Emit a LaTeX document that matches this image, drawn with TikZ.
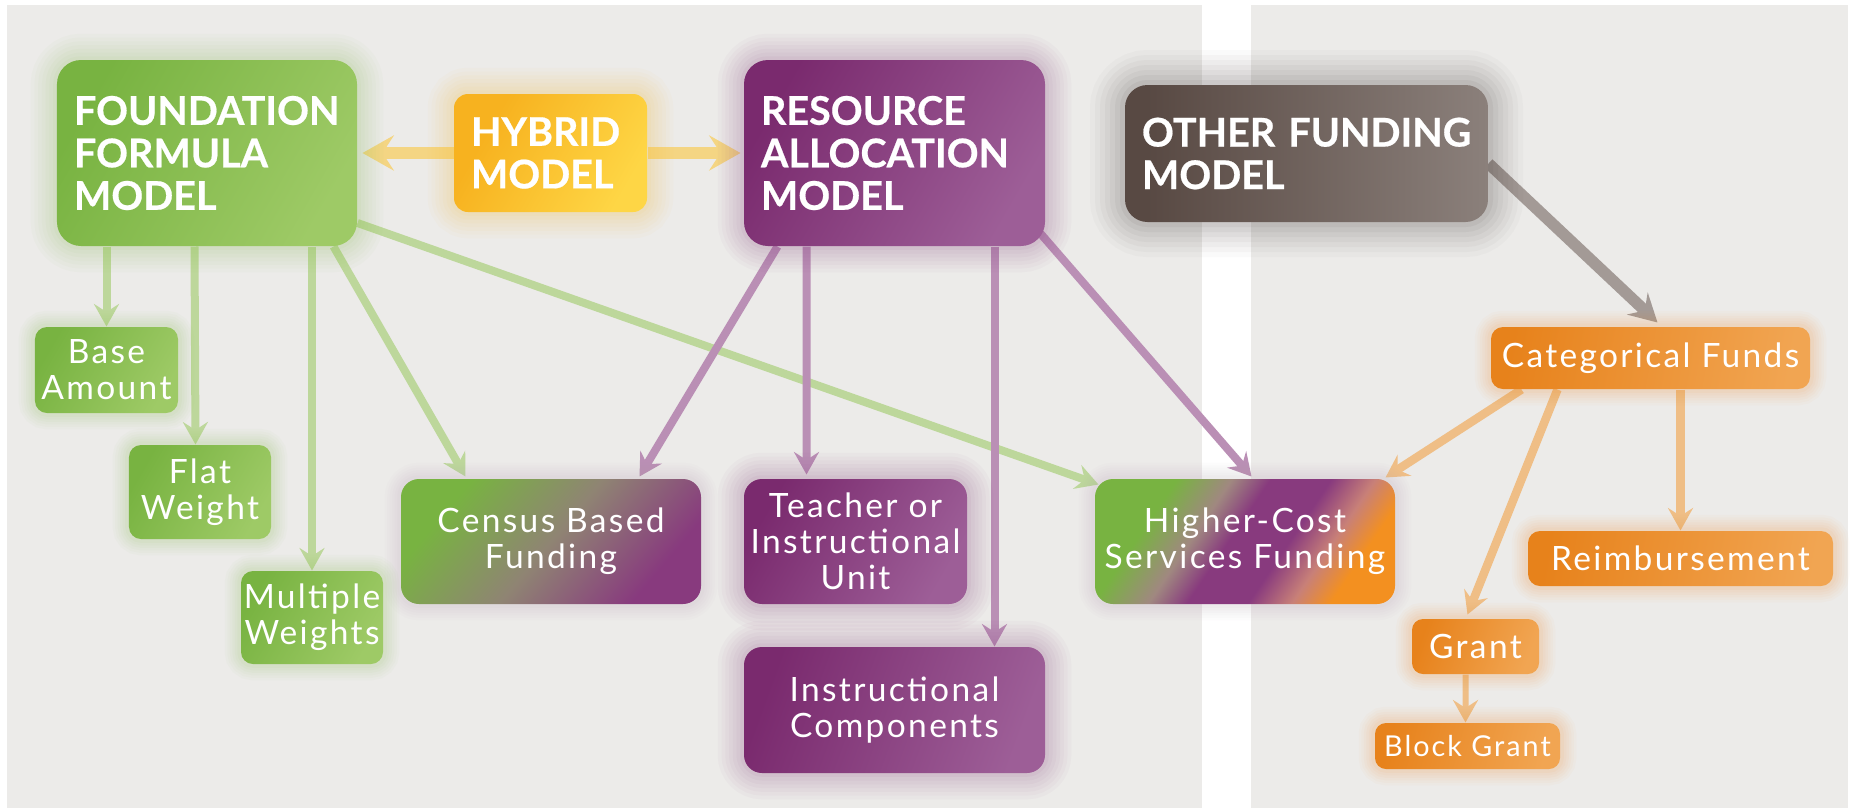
\documentclass[tikz,border=0pt]{standalone}
\usepackage{fontspec}
\setmainfont{Lato}
\newfontfamily\hdrfam[FakeBold=0.5]{Lato Bold}
\newfontfamily\lblfam[LetterSpace=7]{Lato}
\usetikzlibrary{arrows.meta,calc}

\definecolor{cPanel}{HTML}{ECEBE9}
\definecolor{cG1}{HTML}{78B341}
\definecolor{cG2}{HTML}{9ECA66}
\definecolor{cGglow}{HTML}{8CC452}
\definecolor{cGarr}{HTML}{BDD79B}
\definecolor{cP1}{HTML}{7A2A6E}
\definecolor{cP2}{HTML}{9D5E97}
\definecolor{cPmid}{HTML}{883A7E}
\definecolor{cPglow}{HTML}{8A3B80}
\definecolor{cParr}{HTML}{BA8FB5}
\definecolor{cY1}{HTML}{F7B21F}
\definecolor{cY2}{HTML}{FED645}
\definecolor{cYglow}{HTML}{F9C22E}
\definecolor{cYarr}{HTML}{F4D583}
\definecolor{cB1}{HTML}{584943}
\definecolor{cB2}{HTML}{8B807B}
\definecolor{cBglow}{HTML}{3F322E}
\definecolor{cBarr}{HTML}{A39A96}
\definecolor{cO1}{HTML}{E7821B}
\definecolor{cO2}{HTML}{F1A552}
\definecolor{cOglow}{HTML}{EC8C2A}
\definecolor{cOarr}{HTML}{EFBE86}
\definecolor{cGrey}{HTML}{8F8473}
\definecolor{cMauve}{HTML}{A08880}
\definecolor{cPink}{HTML}{C88078}
\definecolor{cOr}{HTML}{F39020}
\definecolor{cHglow}{HTML}{B8A8B0}

\pgfdeclarehorizontalshading{shGreen}{100bp}{color(0bp)=(cG1); color(25bp)=(cG1); color(75bp)=(cG2); color(100bp)=(cG2)}
\pgfdeclarehorizontalshading{shPurple}{100bp}{color(0bp)=(cP1); color(25bp)=(cP1); color(75bp)=(cP2); color(100bp)=(cP2)}
\pgfdeclarehorizontalshading{shYellow}{100bp}{color(0bp)=(cY1); color(30bp)=(cY1); color(75bp)=(cY2); color(100bp)=(cY2)}
\pgfdeclarehorizontalshading{shBrown}{100bp}{color(0bp)=(cB1); color(28bp)=(cB1); color(75bp)=(cB2); color(100bp)=(cB2)}
\pgfdeclarehorizontalshading{shOrange}{100bp}{color(0bp)=(cO1); color(25bp)=(cO1); color(75bp)=(cO2); color(100bp)=(cO2)}
\pgfdeclarehorizontalshading{shCensus}{100bp}{color(0bp)=(cG1); color(27bp)=(cG1); color(50bp)=(cGrey); color(73bp)=(cPmid); color(100bp)=(cPmid)}
\pgfdeclarehorizontalshading{shHigher}{100bp}{color(0bp)=(cG1); color(30bp)=(cG1); color(40bp)=(cMauve); color(47bp)=(cPmid); color(58bp)=(cPmid); color(66bp)=(cPink); color(73bp)=(cOr); color(100bp)=(cOr)}

\pgfdeclarelayer{bg}
\pgfdeclarelayer{arrowlayer}
\pgfsetlayers{bg,arrowlayer,main}

\begin{document}
\begin{tikzpicture}[x=0.4pt,y={(0pt,-0.4pt)},
  glow/.style={preaction={draw=#1,line width=21pt,draw opacity=0.03},
               preaction={draw=#1,line width=18pt,draw opacity=0.03},
               preaction={draw=#1,line width=15pt,draw opacity=0.035},
               preaction={draw=#1,line width=12pt,draw opacity=0.035},
               preaction={draw=#1,line width=9pt,draw opacity=0.04},
               preaction={draw=#1,line width=6pt,draw opacity=0.04},
               preaction={draw=#1,line width=3pt,draw opacity=0.05}},
  sglow/.style={preaction={draw=#1,line width=13pt,draw opacity=0.03},
                preaction={draw=#1,line width=11pt,draw opacity=0.03},
                preaction={draw=#1,line width=9pt,draw opacity=0.035},
                preaction={draw=#1,line width=7pt,draw opacity=0.04},
                preaction={draw=#1,line width=5pt,draw opacity=0.04},
                preaction={draw=#1,line width=3pt,draw opacity=0.05}},
  darkglow/.style={preaction={draw=#1,line width=28pt,draw opacity=0.025},
                   preaction={draw=#1,line width=24pt,draw opacity=0.03},
                   preaction={draw=#1,line width=20pt,draw opacity=0.035},
                   preaction={draw=#1,line width=16pt,draw opacity=0.04},
                   preaction={draw=#1,line width=12pt,draw opacity=0.045},
                   preaction={draw=#1,line width=8pt,draw opacity=0.05},
                   preaction={draw=#1,line width=4pt,draw opacity=0.06}},
  hbox/.style={shade, text=white, align=left, inner xsep=6.8pt, inner ysep=0pt,
               font=\hdrfam\fontsize{15.8}{17}\selectfont},
  lbox/.style={shade, text=white, align=center, inner sep=0pt,
               font=\lblfam\fontsize{13.4}{14.3}\selectfont},
  garr/.style={draw=cGarr, line width=3.2pt, -{Stealth[length=9pt,width=10pt,inset=3.2pt]}},
  parr/.style={draw=cParr, line width=3.2pt, -{Stealth[length=9pt,width=10pt,inset=3.2pt]}},
  oarr/.style={draw=cOarr, line width=3.4pt, -{Stealth[length=9pt,width=10pt,inset=3.2pt]}},
  yarr/.style={draw=cYarr, line width=5pt, -{Stealth[length=12.5pt,width=14pt,inset=4.5pt]}},
  barr/.style={draw=cBarr, line width=4.6pt, -{Stealth[length=11pt,width=12pt,inset=4pt]}}
]
\useasboundingbox (0,0) rectangle (1856,808);
\begin{pgfonlayer}{bg}
  \fill[white] (0,0) rectangle (1856,808);
  \fill[cPanel] (7,5) rectangle (1202,808);
  \fill[cPanel] (1251,5) rectangle (1848,808);
\end{pgfonlayer}

% header boxes
\node[hbox, shading=shGreen, shading angle=-30, glow=cGglow, rounded corners=9.6pt,
      minimum width=120pt, minimum height=74.4pt, text width=106.4pt] (found) at (207,153)
      {FOUNDATION\\FORMULA\\MODEL};
\node[hbox, shading=shYellow, shading angle=-30, glow=cYglow, rounded corners=5.6pt,
      minimum width=77.2pt, minimum height=47.2pt, text width=63.6pt] (hybrid) at (550.5,153)
      {HYBRID\\MODEL};
\node[hbox, shading=shPurple, shading angle=-30, glow=cPglow, rounded corners=9.6pt,
      minimum width=120.4pt, minimum height=74.4pt, text width=106.8pt] (resource) at (894.5,153)
      {RESOURCE\\ALLOCATION\\MODEL};
\node[hbox, shading=shBrown, shading angle=0, darkglow=cBglow, rounded corners=9pt,
      minimum width=145.2pt, minimum height=54.8pt, text width=131.6pt] (other) at (1306.5,153.5)
      {\mbox{OTHER FUNDING}\\MODEL};

% green leaves
\node[lbox, shading=shGreen, shading angle=-30, sglow=cGglow, rounded corners=4.8pt,
      minimum width=57.2pt, minimum height=34.4pt] (base) at (106.5,370) {Base\\Amount};
\node[lbox, shading=shGreen, shading angle=-30, sglow=cGglow, rounded corners=4.8pt,
      minimum width=56.8pt, minimum height=37.6pt] (flat) at (200,492) {Flat\\Weight};
\node[lbox, shading=shGreen, shading angle=-30, sglow=cGglow, rounded corners=4.8pt,
      minimum width=56.8pt, minimum height=37.2pt] (multi) at (312,617.5) {Multiple\\Weights};

% mixed and purple leaves
\node[lbox, shading=shCensus, shading angle=-40, sglow=cHglow, rounded corners=7.2pt,
      minimum width=120pt, minimum height=50pt] (census) at (551,541.5) {Census Based\\Funding};
\node[lbox, shading=shPurple, shading angle=-30, glow=cPglow, rounded corners=7.2pt,
      minimum width=89.2pt, minimum height=50pt] (teacher) at (855.5,541.5) {Teacher or\\Instructional\\Unit};
\node[lbox, shading=shPurple, shading angle=-20, glow=cPglow, rounded corners=7.2pt,
      minimum width=120.4pt, minimum height=50.4pt] (instr) at (894.5,710) {Instructional\\Components};
\node[lbox, shading=shHigher, shading angle=-34, sglow=cHglow, rounded corners=7.2pt,
      minimum width=120pt, minimum height=50pt] (higher) at (1245,541.5) {Higher-Cost\\Services Funding};

% orange leaves
\node[lbox, shading=shOrange, shading angle=-10, sglow=cOglow, rounded corners=4.8pt,
      minimum width=127.6pt, minimum height=24.8pt] (categ) at (1650.5,358) {Categorical Funds};
\node[lbox, shading=shOrange, shading angle=-10, sglow=cOglow, rounded corners=4.8pt,
      minimum width=122pt, minimum height=22pt] (reimb) at (1680.5,558.5) {Reimbursement};
\node[lbox, shading=shOrange, shading angle=-20, sglow=cOglow, rounded corners=4.4pt,
      minimum width=50.8pt, minimum height=22pt] (grant) at (1475.5,646.5) {Grant};
\node[lbox, shading=shOrange, shading angle=-15, sglow=cOglow, rounded corners=4.4pt,
      minimum width=74pt, minimum height=18.4pt, font=\lblfam\fontsize{11.5}{13}\selectfont] (block) at (1467.5,746) {Block Grant};

\begin{pgfonlayer}{arrowlayer}
  \draw[yarr, shorten >=2pt] (hybrid.west) -- (found.east);
  \draw[yarr, shorten >=1.2pt] (hybrid.east) -- (resource.west);
  \draw[garr] (found.south -| base.north) -- (base.north);
  \draw[garr] ($(found.south west)+(138,0)$) -- ($(flat.north west)+(67,0)$);
  \draw[garr] (found.south -| multi.north) -- (multi.north);
  \draw[garr] ($(found.south east)+(-24,0)$) -- ($(census.north west)+(65,-2)$);
  \draw[garr] ($(found.east)+(0,70)$) -- ($(higher.north west)+(4,6)$);
  \draw[parr] ($(resource.south west)+(34,0)$) -- ($(census.north east)+(-62,-2)$);
  \draw[parr] ($(resource.south west)+(63,0)$) -- ($(teacher.north west)+(63,-4)$);
  \draw[parr] ($(resource.south west)+(251,0)$) -- ($(instr.north west)+(251,0)$);
  \draw[parr] ($(resource.south east)+(-5,-13)$) -- ($(higher.north west)+(157,-2)$);
  \draw[barr] ($(other.east)+(0,10)$) -- ($(categ.north west)+(167,-4)$);
  \draw[oarr] ($(categ.south west)+(31,0)$) -- ($(higher.north east)+(-10,-1)$);
  \draw[oarr] ($(categ.south west)+(67,0)$) -- ($(grant.north west)+(56,-4)$);
  \draw[oarr] (reimb.north |- categ.south) -- (reimb.north);
  \draw[oarr, line width=2.4pt] ($(grant.south west)+(54,0)$) -- ($(block.north west)+(91,0)$);
\end{pgfonlayer}
\end{tikzpicture}
\end{document}
